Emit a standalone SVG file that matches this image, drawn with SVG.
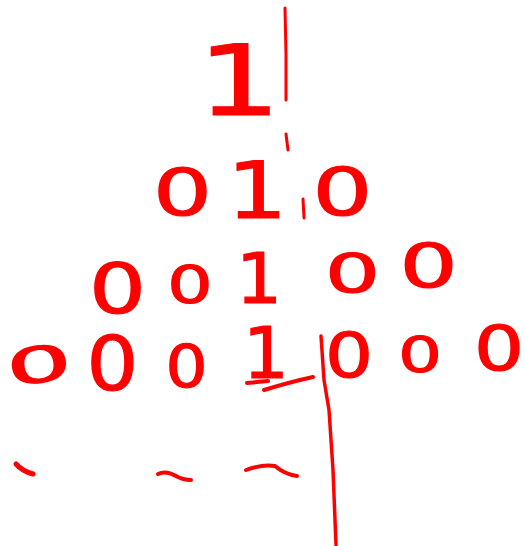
<svg xmlns="http://www.w3.org/2000/svg" width="525" height="546" viewBox="0 0 525 546">
<style>
.d{font-family:"DejaVu Sans",sans-serif;fill:#ff0000;stroke:#ff0000;stroke-width:1.2;text-anchor:middle}
.s{fill:none;stroke:#ff0000;stroke-linecap:round;stroke-linejoin:round}
</style>
<rect width="525" height="546" fill="#ffffff"/>
<g id="row1">
<text class="d" font-size="98" transform="translate(239,115) scale(1.35,1)">1</text>
</g>
<g id="row2">
<text class="d" font-size="64" transform="translate(182.5,215) scale(1.45,1)">0</text>
<text class="d" font-size="78" transform="translate(257,218) scale(1.22,1)">1</text>
<text class="d" font-size="65" transform="translate(342.5,215) scale(1.45,1)">0</text>
</g>
<g id="row3">
<text class="d" font-size="69" transform="translate(117.5,313) scale(1.3,1)">0</text>
<text class="d" font-size="51" transform="translate(190,303) scale(1.4,1)">0</text>
<text class="d" font-size="69" transform="translate(259,303) scale(1.05,1)">1</text>
<text class="d" font-size="54" transform="translate(352.5,292) scale(1.6,1)">0</text>
<text class="d" font-size="61" transform="translate(428.5,287) scale(1.5,1)">0</text>
</g>
<g id="row4">
<text class="d" font-size="49" transform="translate(41.5,382) rotate(-8) scale(2.1,1)">0</text>
<text class="d" font-size="74" transform="translate(112.5,390) scale(1.1,1)">0</text>
<text class="d" font-size="58" transform="translate(186.5,387) scale(1.14,1)">0</text>
<text class="d" font-size="72" transform="translate(266,378) scale(1.0,1)">1</text>
<text class="d" font-size="63" transform="translate(349,377) scale(1.2,1)">0</text>
<text class="d" font-size="49" transform="translate(420,372) scale(1.4,1)">0</text>
<text class="d" font-size="63" transform="translate(499,370) scale(1.25,1)">0</text>
</g>
<g id="marks">
<path class="s" stroke-width="3" d="M285,8 L286,55 L286,100"/>
<path class="s" stroke-width="3" d="M286,134 L288,150"/>
<path class="s" stroke-width="3" d="M303,199 L304,218"/>
<path class="s" stroke-width="4" d="M247,383 L268,381 M264,390 Q290,382 313,377"/>
<path class="s" stroke-width="3.5" d="M321,336 L324,380 L329,410 L333,470 L336,545"/>
<path class="s" stroke-width="5" d="M16,464 Q22,471 33,474"/>
<path class="s" stroke-width="4" d="M158,474 Q166,470 176,476 Q183,480 191,480"/>
<path class="s" stroke-width="4" d="M246,470 Q262,464 275,466 Q284,474 297,476"/>
</g>
</svg>
